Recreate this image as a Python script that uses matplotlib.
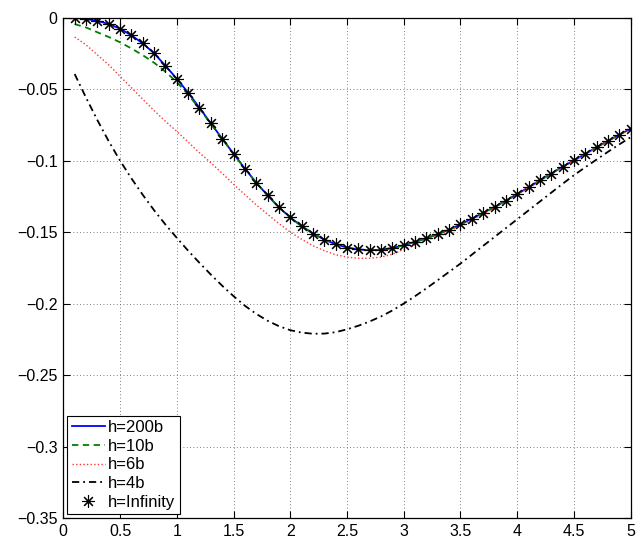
import numpy as np
import matplotlib
matplotlib.use("Agg")
import matplotlib.pyplot as plt

plt.rcParams['font.family'] = ['Liberation Sans', 'DejaVu Sans']

x = [round(0.1 * i, 1) for i in range(1, 51)]

h_inf = [0.0, -0.0009, -0.0022, -0.0044, -0.0077, -0.0123, -0.0180, -0.0249, -0.0336, -0.0427,
         -0.0524, -0.0630, -0.0739, -0.0846, -0.0951, -0.1056, -0.1154, -0.1243, -0.1327, -0.1397,
         -0.1458, -0.1510, -0.1552, -0.1585, -0.1608, -0.1621, -0.1627, -0.1623, -0.1612, -0.1592,
         -0.1568, -0.1543, -0.1514, -0.1483, -0.1446, -0.1406, -0.1366, -0.1324, -0.1280, -0.1233,
         -0.1187, -0.1138, -0.1090, -0.1042, -0.0998, -0.0953, -0.0906, -0.0862, -0.0818, -0.0777]

h_200b = list(h_inf)

h_10b = [-0.0045, -0.0068, -0.0102, -0.0135, -0.0172, -0.0215, -0.0262, -0.0315, -0.0378, -0.0450,
         -0.0537, -0.0637, -0.0742, -0.0848, -0.0952, -0.1056, -0.1154, -0.1243, -0.1327, -0.1397,
         -0.1458, -0.1510, -0.1552, -0.1585, -0.1608, -0.1621, -0.1627, -0.1623, -0.1612, -0.1592,
         -0.1568, -0.1543, -0.1514, -0.1483, -0.1446, -0.1406, -0.1366, -0.1324, -0.1280, -0.1233,
         -0.1187, -0.1138, -0.1090, -0.1042, -0.0998, -0.0953, -0.0906, -0.0862, -0.0818, -0.0777]

h_6b = [-0.0135, -0.0190, -0.0260, -0.0330, -0.0410, -0.0490, -0.0570, -0.0650, -0.0725, -0.0795,
        -0.0870, -0.0945, -0.1015, -0.1088, -0.1165, -0.1238, -0.1310, -0.1375, -0.1440, -0.1500,
        -0.1550, -0.1595, -0.1630, -0.1658, -0.1675, -0.1683, -0.1683, -0.1675, -0.1655, -0.1620,
        -0.1588, -0.1558, -0.1526, -0.1493, -0.1455, -0.1414, -0.1373, -0.1330, -0.1285, -0.1237,
        -0.1190, -0.1140, -0.1092, -0.1044, -0.0999, -0.0954, -0.0907, -0.0863, -0.0819, -0.0778]

h_4b = [-0.0394, -0.0559, -0.0716, -0.0864, -0.1000, -0.1124, -0.1239, -0.1347, -0.1447, -0.1540,
        -0.1630, -0.1715, -0.1797, -0.1875, -0.1948, -0.2015, -0.2072, -0.2120, -0.2158, -0.2186,
        -0.2203, -0.2211, -0.2210, -0.2200, -0.2180, -0.2155, -0.2125, -0.2090, -0.2048, -0.2000,
        -0.1948, -0.1893, -0.1836, -0.1778, -0.1720, -0.1658, -0.1596, -0.1534, -0.1472, -0.1410,
        -0.1348, -0.1286, -0.1224, -0.1162, -0.1102, -0.1046, -0.0992, -0.0938, -0.0886, -0.0836]

xticks = [0, 0.5, 1, 1.5, 2, 2.5, 3, 3.5, 4, 4.5, 5]
xticklabels = ['0', '0.5', '1', '1.5', '2', '2.5', '3', '3.5', '4', '4.5', '5']
yticks = [0, -0.05, -0.1, -0.15, -0.2, -0.25, -0.3, -0.35]
yticklabels = ['0', '\u22120.05', '\u22120.1', '\u22120.15', '\u22120.2', '\u22120.25', '\u22120.3', '\u22120.35']

fig = plt.figure(figsize=(6.42, 5.41), dpi=100)
ax = fig.add_axes([0.0986, 0.0425, 0.8838, 0.9248])

ax.plot(x, h_200b, color='#0000ff', lw=1.3, label='h=200b')
ax.plot(x, h_10b, color='#008000', lw=1.3, ls=(0, (3.5, 2.5)), label='h=10b')
ax.plot(x, h_6b, color='#ff3333', lw=1.0, ls=(0, (1, 1.6)), label='h=6b')
ax.plot(x, h_4b, color='black', lw=1.3, ls=(0, (4, 2.2, 1, 2.2)), label='h=4b')
ax.plot(x, h_inf, ls='none', marker=(8, 2, 0), ms=9, mew=0.8, color='black', label='h=Infinity')

ax.set_xlim(0, 5)
ax.set_ylim(-0.35, 0)
ax.set_xticks(xticks)
ax.set_xticklabels(xticklabels)
ax.set_yticks(yticks)
ax.set_yticklabels(yticklabels)
ax.tick_params(direction='in', top=True, right=True, length=5, width=0.8, labelsize=11.5, pad=4)
ax.grid(True, ls=(0, (1, 3)), color='#555555', lw=0.6)
for s in ax.spines.values():
    s.set_linewidth(0.9)

leg = ax.legend(loc='lower left', fontsize=12, frameon=True, fancybox=False,
                edgecolor='black', framealpha=1, borderpad=0.25, labelspacing=0.22,
                handlelength=2.0, handletextpad=0.2, borderaxespad=0.25)
leg.get_frame().set_linewidth(0.8)

fig.savefig('out.png', dpi=100)
